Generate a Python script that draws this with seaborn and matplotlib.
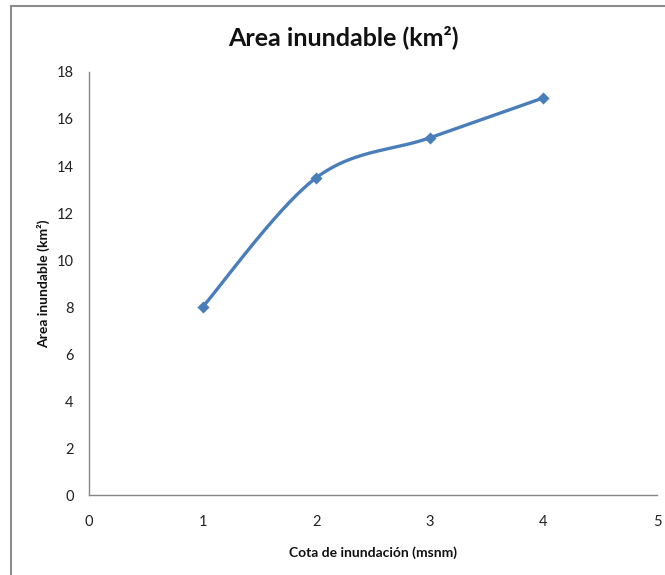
import numpy as np
import pandas as pd
import matplotlib
matplotlib.use("Agg")
import matplotlib.pyplot as plt
from matplotlib.patches import Rectangle
import seaborn as sns

# Data
cota = [1, 2, 3, 4]
area = [8.0, 13.5, 15.2, 16.9]
x_ticks = [0, 1, 2, 3, 4, 5]
y_ticks = [0, 2, 4, 6, 8, 10, 12, 14, 16, 18]

sns.set_theme(style="white")
plt.rcParams["font.family"] = ["Lato", "DejaVu Sans"]

LINE = "#4A7EBB"
AXIS = "#868686"


def smooth(xs, ys, n=60):
    """Bezier spline through the points, Catmull-Rom style tangents."""
    p = np.column_stack([xs, ys]).astype(float)
    ext = np.vstack([p[0], p, p[-1]])
    out = []
    for i in range(len(p) - 1):
        p0, p1, p2, p3 = ext[i], ext[i + 1], ext[i + 2], ext[i + 3]
        c1 = p1 + (p2 - p0) / 6.0
        c2 = p2 - (p3 - p1) / 6.0
        t = np.linspace(0, 1, n)[:, None]
        seg = ((1 - t) ** 3) * p1 + 3 * ((1 - t) ** 2) * t * c1 + 3 * (1 - t) * t ** 2 * c2 + t ** 3 * p2
        out.append(seg if i == 0 else seg[1:])
    s = np.vstack(out)
    return s[:, 0], s[:, 1]


fig = plt.figure(figsize=(6.65, 5.75), dpi=100)
ax = fig.add_axes([0.1338, 0.139, 0.8542, 0.7358])

sx, sy = smooth(cota, area)
curve = pd.DataFrame({"x": sx, "y": sy})
pts = pd.DataFrame({"cota": cota, "area": area})

sns.lineplot(data=curve, x="x", y="y", ax=ax, color=LINE, linewidth=2.4,
             sort=False, estimator=None)
sns.scatterplot(data=pts, x="cota", y="area", ax=ax, color=LINE, marker="D",
                s=38, edgecolor=LINE, linewidth=0, zorder=5)

ax.set_xlim(0, 5)
ax.set_ylim(0, 18)
ax.set_xticks(x_ticks)
ax.set_yticks(y_ticks)
ax.set_xticklabels([str(v) for v in x_ticks])
ax.set_yticklabels([str(v) for v in y_ticks])

for side in ("top", "right"):
    ax.spines[side].set_visible(False)
for side in ("left", "bottom"):
    ax.spines[side].set_color(AXIS)
    ax.spines[side].set_linewidth(1.0)

ax.tick_params(axis="both", direction="out", length=5, width=1.0, color=AXIS,
               labelsize=10.5, labelcolor="#222222")
ax.tick_params(axis="x", pad=9)
ax.tick_params(axis="y", pad=6)

ax.set_xlabel("Cota de inundación (msnm)", fontsize=10, fontweight="bold",
              labelpad=13, color="#111111")
ax.set_ylabel("Area inundable (km²)", fontsize=10, fontweight="bold",
              labelpad=5, color="#111111")

fig.text(0.516, 0.936, "Area inundable (km²)", ha="center", va="center",
         fontsize=18, fontweight="bold", color="#111111")

# chart frame
fig.add_artist(Rectangle((10.5 / 665, -0.05), 1.2, 1.0 - 5.5 / 575 + 0.05,
                         transform=fig.transFigure, fill=False,
                         edgecolor="#8C8C8C", linewidth=1.5))

fig.savefig("out.png", dpi=100)
